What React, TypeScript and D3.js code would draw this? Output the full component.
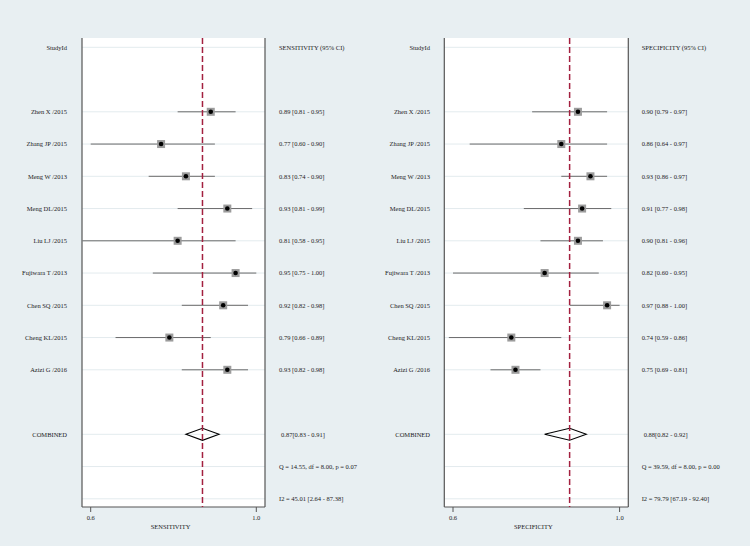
import React from "react";
import * as d3 from "d3";

const studies = [
  "Zhen X /2015",
  "Zhang JP /2015",
  "Meng W /2013",
  "Meng DL/2015",
  "Liu LJ /2015",
  "Fujiwara T /2013",
  "Chen SQ /2015",
  "Cheng KL/2015",
  "Azizi G /2016",
];

const sensEst = [0.89, 0.77, 0.83, 0.93, 0.81, 0.95, 0.92, 0.79, 0.93];
const sensLo = [0.81, 0.6, 0.74, 0.81, 0.58, 0.75, 0.82, 0.66, 0.82];
const sensHi = [0.95, 0.9, 0.9, 0.99, 0.95, 1.0, 0.98, 0.89, 0.98];

const specEst = [0.9, 0.86, 0.93, 0.91, 0.9, 0.82, 0.97, 0.74, 0.75];
const specLo = [0.79, 0.64, 0.86, 0.77, 0.81, 0.6, 0.88, 0.59, 0.69];
const specHi = [0.97, 0.97, 0.97, 0.98, 0.96, 0.95, 1.0, 0.86, 0.81];

const sensPooled = [0.87, 0.83, 0.91];
const specPooled = [0.88, 0.82, 0.92];

const sensStats = ["Q = 14.55, df = 8.00, p =  0.07", "I2 = 45.01 [2.64 - 87.38]"];
const specStats = ["Q = 39.59, df = 8.00, p =  0.00", "I2 = 79.79 [67.19 - 92.40]"];

const xTicks = [0.6, 1.0];

const BG = "#e8eff2";
const GRID = "#e3ebee";
const FONT = "'Liberation Serif', 'Times New Roman', serif";
const FS = 6.5;

const rowY = d3.scaleLinear().domain([0, 14]).range([47.3, 498.8]);
const plotTop = 38;
const plotBottom = 507;

const fmt = (v: number) => v.toFixed(2);

interface PanelProps {
  left: number;
  right: number;
  labelX: number;
  textX: number;
  title: string;
  est: number[];
  lo: number[];
  hi: number[];
  pooled: number[];
  stats: string[];
}

const Panel = ({ left, right, labelX, textX, title, est, lo, hi, pooled, stats }: PanelProps) => {
  const x = d3.scaleLinear().domain([0.6, 1.0]).range([left + 8.7, right - 8.7]);
  const gridRows = [0, ...studies.map((_, i) => i + 2), 12, 13, 14];
  const cy = rowY(12);
  const diamond = [
    [x(pooled[1]), cy],
    [x(pooled[0]), cy - 6],
    [x(pooled[2]), cy],
    [x(pooled[0]), cy + 6],
  ];
  return (
    <g fontFamily={FONT} fontSize={FS} fill="#222">
      <rect x={left} y={plotTop} width={right - left} height={plotBottom - plotTop} fill="#fff" />
      {gridRows.map((r) => (
        <line key={r} x1={left} x2={right} y1={rowY(r)} y2={rowY(r)} stroke={GRID} strokeWidth={1} />
      ))}
      <line x1={left} x2={left} y1={plotTop} y2={plotBottom} stroke="#555" strokeWidth={1.2} />
      <line x1={right} x2={right} y1={plotTop} y2={plotBottom} stroke="#555" strokeWidth={1.2} />
      <line x1={left} x2={right} y1={plotBottom} y2={plotBottom} stroke="#555" strokeWidth={1.2} />
      {xTicks.map((t) => (
        <g key={t}>
          <line x1={x(t)} x2={x(t)} y1={plotBottom} y2={plotBottom + 5} stroke="#555" strokeWidth={1} />
          <text x={x(t)} y={plotBottom + 11} dy="0.35em" textAnchor="middle">
            {t.toFixed(1)}
          </text>
        </g>
      ))}
      <text x={(left + right) / 2 - 3} y={plotBottom + 20} dy="0.35em" textAnchor="middle">
        {title}
      </text>
      {studies.map((s, i) => {
        const y = rowY(i + 2);
        return (
          <g key={s}>
            <line x1={x(lo[i])} x2={x(hi[i])} y1={y} y2={y} stroke="#6b6b6b" strokeWidth={1} />
            <rect x={x(est[i]) - 4} y={y - 4} width={8} height={8} fill="#9c9c9c" />
            <circle cx={x(est[i])} cy={y} r={2.3} fill="#000" />
          </g>
        );
      })}
      <polygon points={diamond.map((p) => p.join(",")).join(" ")} fill="none" stroke="#000" strokeWidth={1.1} />
      <line
        x1={x(pooled[0])}
        x2={x(pooled[0])}
        y1={plotTop}
        y2={plotBottom}
        stroke="#a3203f"
        strokeWidth={1.5}
        strokeDasharray="6,3"
      />
      <text x={labelX} y={rowY(0)} dy="0.35em" textAnchor="end">
        StudyId
      </text>
      {studies.map((s, i) => (
        <text key={s} x={labelX} y={rowY(i + 2)} dy="0.35em" textAnchor="end">
          {s}
        </text>
      ))}
      <text x={labelX} y={rowY(12)} dy="0.35em" textAnchor="end">
        COMBINED
      </text>
      <text x={textX} y={rowY(0)} dy="0.35em">
        {title} (95% CI)
      </text>
      {studies.map((s, i) => (
        <text key={s} x={textX} y={rowY(i + 2)} dy="0.35em">
          {`${fmt(est[i])} [${fmt(lo[i])} - ${fmt(hi[i])}]`}
        </text>
      ))}
      <text x={textX + 2} y={rowY(12)} dy="0.35em">
        {`${fmt(pooled[0])}[${fmt(pooled[1])} - ${fmt(pooled[2])}]`}
      </text>
      {stats.map((s, i) => (
        <text key={s} x={textX} y={rowY(13 + i)} dy="0.35em">
          {s}
        </text>
      ))}
    </g>
  );
};

export default function App() {
  return (
    <svg width={750} height={546} style={{ position: "absolute", left: 0, top: 0 }}>
      <rect width={750} height={546} fill={BG} />
      <Panel
        left={82}
        right={265}
        labelX={67}
        textX={279}
        title="SENSITIVITY"
        est={sensEst}
        lo={sensLo}
        hi={sensHi}
        pooled={sensPooled}
        stats={sensStats}
      />
      <Panel
        left={444.3}
        right={628.3}
        labelX={430}
        textX={641.7}
        title="SPECIFICITY"
        est={specEst}
        lo={specLo}
        hi={specHi}
        pooled={specPooled}
        stats={specStats}
      />
    </svg>
  );
}
